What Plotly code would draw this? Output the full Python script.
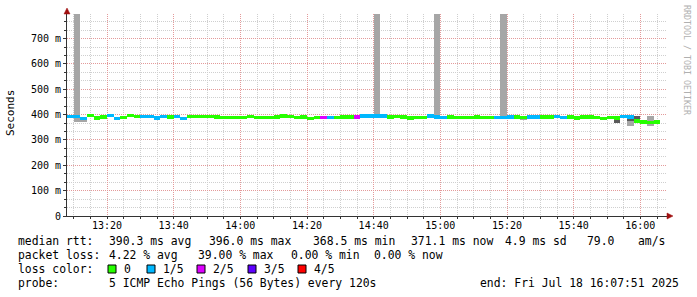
import plotly.graph_objects as go
import pandas as pd

# ---------------- data ----------------
bin_start = pd.date_range("2025-07-18 13:08:00", periods=89, freq="2min")

median_ms = [
    392, 392, 385, 396, 387, 391, 396, 386, 390, 396,
    392, 392, 392, 387, 392, 391, 393, 386, 392, 392,
    392, 392, 391, 390, 388, 388, 388, 392, 390, 390,
    390, 391, 395, 392, 390, 391, 386, 390, 389, 390,
    390, 391, 391, 391, 394, 394, 394, 394, 391, 393,
    391, 387, 390, 390, 394, 391, 390, 391, 390, 390,
    390, 391, 388, 388, 388, 390, 391, 391, 390, 391,
    391, 391, 391, 392, 389, 391, 387, 391, 391, 389,
    386, 389, 387, 392, 391, 375, 371, 369, 371.1,
]

loss_idx = [
    1, 1, 1, 0, 0, 0, 1, 1, 0, 0,
    0, 1, 1, 1, 1, 0, 1, 1, 0, 0,
    0, 0, 0, 0, 0, 0, 0, 0, 0, 0,
    0, 0, 0, 0, 0, 0, 0, 0, 2, 1,
    0, 0, 0, 2, 1, 1, 1, 1, 0, 0,
    0, 0, 0, 0, 1, 1, 1, 0, 0, 0,
    0, 0, 0, 0, 1, 1, 1, 0, 0, 1,
    1, 0, 0, 1, 1, 0, 0, 0, 0, 0,
    0, 0, 0, 1, 1, 0, 0, 0, 0,
]

# outer (light) smoke: min / max ping per bin
smoke_lo = [
    390, 370, 371, 394, 385, 389, 394, 384, 388, 394,
    390, 390, 390, 385, 390, 389, 391, 384, 390, 390,
    390, 390, 389, 388, 386, 386, 386, 390, 388, 388,
    388, 389, 393, 390, 384, 389, 384, 388, 387, 388,
    388, 389, 389, 389, 388, 392, 392, 392, 389, 391,
    389, 385, 386, 386, 392, 386, 388, 389, 383, 386,
    385, 389, 386, 386, 386, 388, 389, 389, 379, 389,
    389, 389, 389, 390, 385, 389, 378, 389, 389, 385,
    384, 386, 368, 386, 357, 368, 366, 357, 366,
]
smoke_hi = [
    394, 800, 387, 398, 393, 393, 398, 388, 392, 398,
    394, 394, 394, 389, 394, 393, 395, 388, 394, 394,
    394, 394, 393, 392, 390, 390, 390, 394, 392, 393,
    393, 393, 397, 394, 392, 393, 388, 392, 391, 392,
    393, 393, 393, 393, 396, 396, 800, 396, 393, 395,
    393, 392, 392, 392, 396, 800, 392, 393, 392, 392,
    392, 393, 390, 390, 390, 800, 393, 393, 392, 393,
    393, 393, 394, 394, 391, 393, 389, 393, 393, 391,
    388, 392, 389, 394, 393, 393, 378, 393, 374,
]

# inner (dark) smoke
dark_lo = [
    390, 390, 383, 394, 385, 389, 394, 384, 388, 394,
    390, 390, 390, 385, 390, 389, 391, 384, 390, 390,
    390, 390, 389, 388, 386, 386, 386, 390, 388, 388,
    388, 389, 393, 390, 388, 389, 384, 388, 387, 388,
    387, 389, 389, 389, 392, 392, 392, 392, 389, 391,
    389, 385, 388, 388, 392, 389, 388, 389, 383, 388,
    388, 389, 386, 386, 386, 388, 389, 389, 388, 389,
    389, 389, 389, 390, 387, 389, 385, 389, 389, 387,
    384, 386, 368, 386, 375, 366, 366, 366, 368,
]
dark_hi = [
    394, 394, 387, 398, 393, 393, 398, 388, 392, 398,
    394, 394, 394, 389, 394, 393, 395, 388, 394, 394,
    394, 394, 393, 392, 390, 390, 390, 394, 392, 393,
    393, 393, 397, 394, 392, 393, 388, 392, 391, 392,
    393, 393, 393, 393, 396, 396, 396, 396, 393, 395,
    393, 392, 392, 392, 396, 393, 392, 393, 392, 392,
    392, 393, 390, 390, 390, 392, 393, 393, 392, 393,
    393, 393, 394, 394, 391, 393, 389, 393, 393, 391,
    388, 392, 386, 394, 386, 393, 376, 376, 374,
]

loss_labels = ["0", "1/5", "2/5", "3/5", "4/5"]
loss_colors = ["#26ff00", "#00b8ff", "#dd00ff", "#5e00ff", "#ff0000"]

y_tick_vals = [0, 100, 200, 300, 400, 500, 600, 700]
y_tick_text = ["0", "100 m", "200 m", "300 m", "400 m", "500 m", "600 m", "700 m"]
y_minor_vals = [v / 3 * 100 for v in range(0, 24)]

legend_rows = [
    [("median rtt:", 16), ("390.3 ms avg", 107), ("396.0 ms max", 207), ("368.5 ms min", 311),
     ("371.1 ms now", 409), ("4.9 ms sd", 503), ("79.0", 585), ("am/s", 636)],
    [("packet loss:", 16), ("4.22 % avg", 107), ("39.00 % max", 196), ("0.00 % min", 289),
     ("0.00 % now", 372)],
    [("loss color:", 16)],
    [("probe:", 16), ("5 ICMP Echo Pings (56 Bytes) every 120s", 107),
     ("end: Fri Jul 18 16:07:51 2025", 478)],
]
row_y = [241.5, 255, 269, 283]
swatch_x = [108, 147, 197, 248, 298]

# ---------------- figure ----------------
MONO = "DejaVu Sans Mono"
L, T, W, H = 67, 14, 600, 202
THICK = 13.0


def xp(px):
    return (px - L) / W


def yp(py):
    return 1 - (py - T) / H


fig = go.Figure()

fig.add_trace(go.Bar(
    x=bin_start, base=smoke_lo, y=[h - l for h, l in zip(smoke_hi, smoke_lo)],
    width=120000, offset=0, marker=dict(color="#a6a6a6", line=dict(width=0)),
    hoverinfo="skip", showlegend=False))
fig.add_trace(go.Bar(
    x=bin_start, base=dark_lo, y=[h - l for h, l in zip(dark_hi, dark_lo)],
    width=120000, offset=0, marker=dict(color="#5a5a5a", line=dict(width=0)),
    hoverinfo="skip", showlegend=False))
fig.add_trace(go.Bar(
    x=bin_start, base=[m - THICK / 2 for m in median_ms], y=[THICK] * len(median_ms),
    width=120000, offset=0,
    marker=dict(color=[loss_colors[i] for i in loss_idx], line=dict(width=0)),
    hoverinfo="skip", showlegend=False))

fig.update_layout(
    width=697, height=297,
    margin=dict(l=L, r=697 - L - W, t=T, b=297 - T - H),
    paper_bgcolor="white", plot_bgcolor="white",
    barmode="overlay", bargap=0,
    font=dict(family=MONO, size=10, color="#000"),
    showlegend=False,
)

fig.update_xaxes(
    type="date",
    range=["2025-07-18 13:08:00", "2025-07-18 16:08:00"],
    tick0="2025-07-18 13:20:00", dtick=20 * 60 * 1000, tickformat="%H:%M",
    showgrid=True, gridcolor="#e39a9a", griddash="1px,1px", gridwidth=1,
    showline=True, linecolor="#333", linewidth=1,
    ticks="outside", ticklen=2, tickcolor="#333",
    ticklabelstandoff=-2,
    tickfont=dict(family=MONO, size=10, color="#000"),
    minor=dict(dtick=5 * 60 * 1000, showgrid=True, gridcolor="#cfcfcf",
               griddash="1px,1px", ticks="outside", ticklen=2, tickcolor="#333"),
    zeroline=False, fixedrange=True,
)
fig.update_yaxes(
    range=[0, 797],
    tickmode="array", tickvals=y_tick_vals, ticktext=y_tick_text,
    showgrid=True, gridcolor="#e39a9a", griddash="1px,1px", gridwidth=1,
    showline=True, linecolor="#333", linewidth=1,
    ticks="outside", ticklen=3, tickcolor="#333",
    tickfont=dict(family=MONO, size=10, color="#000"),
    minor=dict(tickmode="array", tickvals=y_minor_vals, showgrid=True,
               gridcolor="#cfcfcf", griddash="1px,1px",
               ticks="outside", ticklen=2, tickcolor="#333"),
    zeroline=False, fixedrange=True,
)

ann = []
ann.append(dict(text="Seconds", x=xp(10), y=yp(113), xref="paper", yref="paper",
                textangle=-90, showarrow=False, xanchor="center", yanchor="middle",
                font=dict(family=MONO, size=11, color="#000")))
ann.append(dict(text="RRDTOOL / TOBI OETIKER", x=xp(687), y=yp(60), xref="paper", yref="paper",
                textangle=90, showarrow=False, xanchor="center", yanchor="middle",
                font=dict(family=MONO, size=8.3, color="#b0b0b0")))

for row, py in zip(legend_rows, row_y):
    for txt, px in row:
        ann.append(dict(text=txt.replace(" ", "\u00a0"), x=xp(px), y=yp(py),
                        xref="paper", yref="paper", showarrow=False,
                        xanchor="left", yanchor="middle",
                        font=dict(family=MONO, size=11.4, color="#000")))

shapes = []
for lab, col, sx in zip(loss_labels, loss_colors, swatch_x):
    shapes.append(dict(type="rect", xref="paper", yref="paper",
                       x0=xp(sx), x1=xp(sx + 8), y0=yp(265), y1=yp(273),
                       fillcolor=col, line=dict(color="#000", width=1)))
    ann.append(dict(text=lab, x=xp(sx + 14), y=yp(269), xref="paper", yref="paper",
                    showarrow=False, xanchor="left", yanchor="middle",
                    font=dict(family=MONO, size=11.4, color="#000")))

# axis arrows
shapes.append(dict(type="path", xref="paper", yref="paper",
                   path=f"M {xp(64)},{yp(14)} L {xp(70)},{yp(14)} L {xp(67)},{yp(8)} Z",
                   fillcolor="#a01010", line=dict(color="#a01010", width=0.5)))
shapes.append(dict(type="path", xref="paper", yref="paper",
                   path=f"M {xp(667)},{yp(213)} L {xp(667)},{yp(219)} L {xp(673)},{yp(216)} Z",
                   fillcolor="#a01010", line=dict(color="#a01010", width=0.5)))

fig.update_layout(annotations=ann, shapes=shapes)

fig.write_html("out.html")
